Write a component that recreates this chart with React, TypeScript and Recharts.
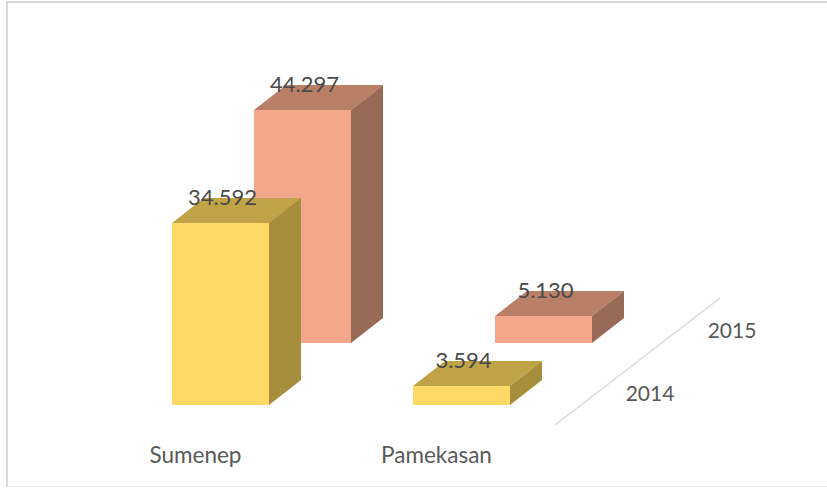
import { BarChart, Bar, XAxis, YAxis, LabelList } from "recharts";

const categories = ["Sumenep", "Pamekasan"];
const values2014 = [34592, 3594];
const values2015 = [44297, 5130];
const depthLabels = ["2014", "2015"];

const data = categories.map((name, i) => ({
  name,
  y2014: values2014[i],
  y2015: values2015[i],
}));

const FONT = "Lato, sans-serif";
const DEPTH_X = 32;
const DEPTH_Y = 25;
const REAR_SHIFT = 62; // 2015 row sits further back on the floor

const YELLOW = { front: "#ffd966", top: "#bfa346", side: "#a68e3c" };
const SALMON = { front: "#f3a78a", top: "#b97f67", side: "#986a56" };

// Bar drawn as a box: front face from the scale, plus top and side faces.
function Box({ x, y, width, height, colors, shift }: any) {
  const top = y - shift;
  const bottom = top + height;
  const right = x + width;
  return (
    <g>
      <rect x={x} y={top} width={width} height={height} fill={colors.front} />
      <polygon
        points={`${x},${top} ${x + DEPTH_X},${top - DEPTH_Y} ${right + DEPTH_X},${top - DEPTH_Y} ${right},${top}`}
        fill={colors.top}
      />
      <polygon
        points={`${right},${top} ${right + DEPTH_X},${top - DEPTH_Y} ${right + DEPTH_X},${bottom - DEPTH_Y} ${right},${bottom}`}
        fill={colors.side}
      />
    </g>
  );
}

function valueLabel(shift: number) {
  return ({ x, y, width, value }: any) => (
    <text
      x={x + width / 2 + 2}
      y={y - shift - DEPTH_Y + 1}
      textAnchor="middle"
      dominantBaseline="middle"
      fill="#4a4a4a"
      fontSize={22}
      fontFamily={FONT}
    >
      {Number(value).toLocaleString("de-DE")}
    </text>
  );
}

export default function App() {
  return (
    <div
      style={{
        position: "absolute",
        left: 0,
        top: 0,
        width: 827,
        height: 488,
        background: "#fff",
        overflow: "hidden",
      }}
    >
      {/* chart frame, the right side is cut off in the source */}
      <div
        style={{
          position: "absolute",
          left: 6,
          top: 1,
          width: 821,
          height: 486,
          borderTop: "2px solid #d9d9d9",
          borderLeft: "2px solid #d9d9d9",
          borderBottom: "1px solid #e8e8e8",
          boxSizing: "border-box",
        }}
      />
      <BarChart
        width={827}
        height={488}
        data={data}
        margin={{ top: 142, right: 204, bottom: 53, left: 141 }}
        barSize={97}
        barGap={-179}
        style={{ position: "absolute", left: 0, top: 0 }}
      >
        <XAxis
          dataKey="name"
          height={30}
          axisLine={false}
          tickLine={false}
          tickMargin={36}
          tick={{ fill: "#595959", fontSize: 22.5, fontFamily: FONT, dx: -66 }}
        />
        <YAxis hide domain={[0, 50000]} />
        <Bar
          dataKey="y2015"
          isAnimationActive={false}
          shape={(p: any) => <Box {...p} colors={SALMON} shift={REAR_SHIFT} />}
        >
          <LabelList dataKey="y2015" content={valueLabel(REAR_SHIFT)} />
        </Bar>
        <Bar
          dataKey="y2014"
          isAnimationActive={false}
          shape={(p: any) => <Box {...p} colors={YELLOW} shift={0} />}
        >
          <LabelList dataKey="y2014" content={valueLabel(0)} />
        </Bar>
        {/* depth axis */}
        <line x1={555} y1={425} x2={720} y2={298} stroke="#d9d9d9" strokeWidth={1.5} />
        <text x={650} y={396} textAnchor="middle" dominantBaseline="middle" fill="#595959" fontSize={21} fontFamily={FONT}>
          {depthLabels[0]}
        </text>
        <text x={732} y={333} textAnchor="middle" dominantBaseline="middle" fill="#595959" fontSize={21} fontFamily={FONT}>
          {depthLabels[1]}
        </text>
      </BarChart>
    </div>
  );
}
